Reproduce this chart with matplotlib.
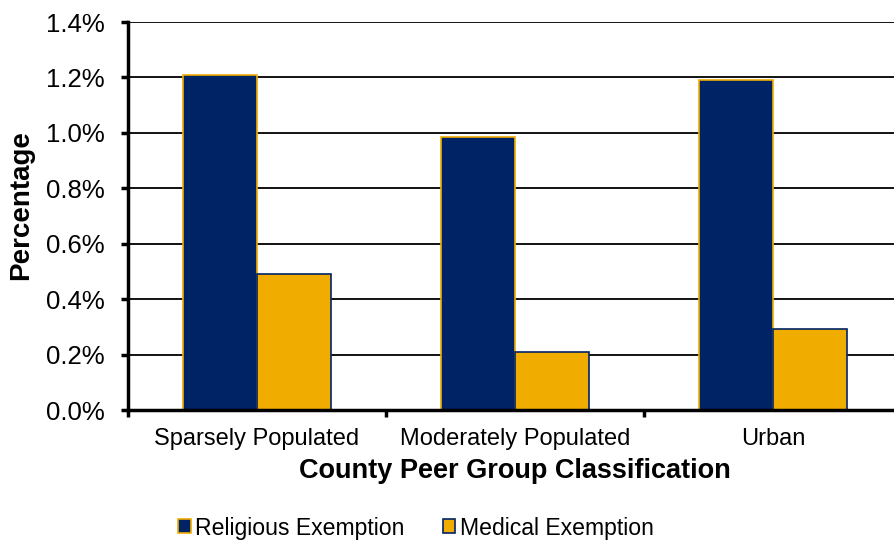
import numpy as np
import matplotlib.pyplot as plt
from matplotlib.ticker import FuncFormatter, FixedLocator

# County peer groups and exemption rates (percent)
groups = ['Sparsely Populated', 'Moderately Populated', 'Urban']
religious = [1.21, 0.985, 1.19]
medical = [0.49, 0.21, 0.293]
series_names = ['Religious Exemption', 'Medical Exemption']

NAVY = '#002366'
GOLD = '#F0AD00'

plt.rcParams['font.family'] = ['Liberation Sans', 'DejaVu Sans']

fig = plt.figure(figsize=(8.94, 5.44), dpi=100)
ax = fig.add_axes([128 / 894, 1 - 410 / 544, 774 / 894, 388 / 544])

x = np.arange(len(groups)) + 0.5
w = 74 / 258
ax.bar(x - w / 2, religious, w, color=NAVY, edgecolor=GOLD, linewidth=1.2,
       label=series_names[0], zorder=3)
ax.bar(x + w / 2, medical, w, color=GOLD, edgecolor=NAVY, linewidth=1.2,
       label=series_names[1], zorder=3)

ax.set_xlim(0, 3)
ax.set_ylim(0, 1.4)
ax.set_yticks(np.arange(0, 1.41, 0.2))
ax.yaxis.set_major_formatter(FuncFormatter(lambda v, p: f'{v:.1f}%'))
ax.yaxis.grid(True, color='black', linewidth=1.3, zorder=0)

# labels at group centres, tick marks between groups
ax.set_xticks(x)
ax.set_xticklabels(groups)
ax.xaxis.set_minor_locator(FixedLocator([0, 1, 2, 3]))
ax.tick_params(axis='x', which='major', length=0, pad=13, labelsize=17)
ax.tick_params(axis='x', which='minor', length=5, width=2.5, direction='out')
ax.tick_params(axis='y', length=5, width=2.5, direction='out', labelsize=18.5, pad=12)

for side in ['top', 'right']:
    ax.spines[side].set_visible(False)
ax.spines['left'].set_linewidth(2.5)
ax.spines['bottom'].set_linewidth(2.5)
ax.spines['left'].set_zorder(4)
ax.spines['bottom'].set_zorder(4)

ax.set_xlabel('County Peer Group Classification', fontsize=19.5, fontweight='bold', labelpad=6)
ax.set_ylabel('Percentage', fontsize=20, fontweight='bold')
ax.yaxis.set_label_coords(-94 / 774, (410 - 205) / 388)

fig.legend(loc='center', bbox_to_anchor=(416 / 894, 1 - 528 / 544), ncol=2, frameon=False,
           fontsize=16.6, handlelength=0.55, handleheight=0.55, handletextpad=0.2,
           columnspacing=1.65)

fig.savefig('out.png', dpi=100)
